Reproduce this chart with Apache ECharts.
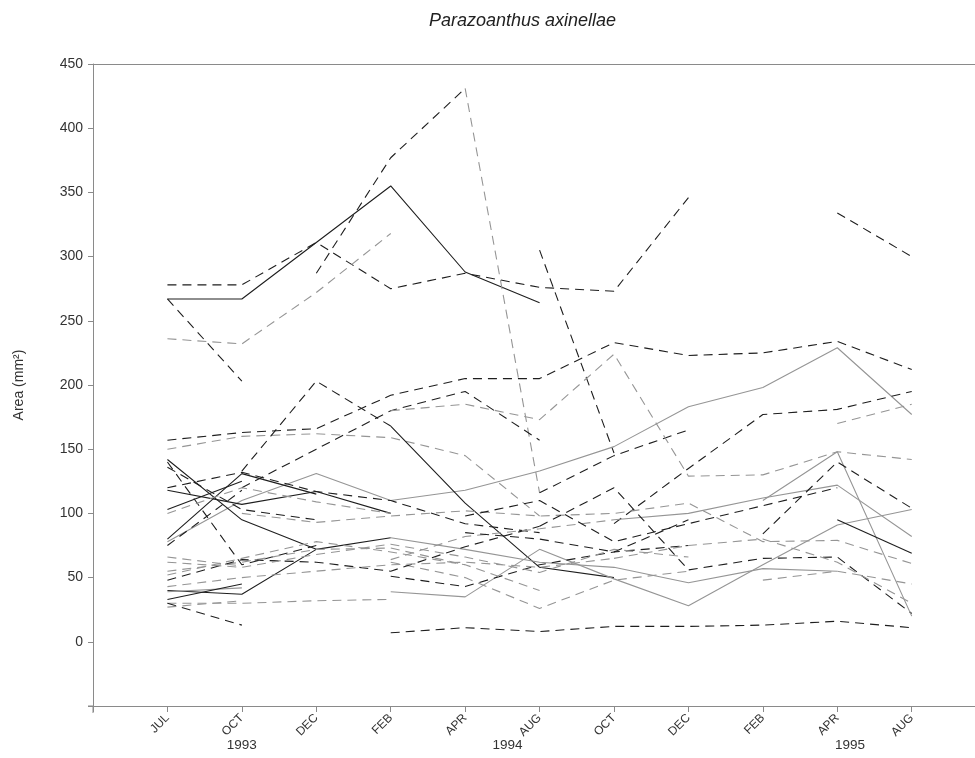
<!DOCTYPE html>
<html><head><meta charset="utf-8">
<script src="https://cdn.jsdelivr.net/npm/echarts/dist/echarts.min.js"></script>
<style>html,body{margin:0;padding:0;background:#fff}#c{width:975px;height:758px}</style>
</head><body><div id="c"></div>
<script>
// categories (sampling dates)
const months = ['JUL','OCT','DEC','FEB','APR','AUG','OCT','DEC','FEB','APR','AUG'];
const years = ['1993','1994','1995'];
const yearPos = [1, 4.57, 9.17];
const yTicks = [0,50,100,150,200,250,300,350,400,450];
// colony area series, order: JUL OCT DEC FEB APR AUG OCT DEC FEB APR AUG (null = not measured)
const s01 = [267,267,311,355,288,264,null,null,null,null,null];
const s02 = [278,278,311,275,287,276,273,346,null,334,300];
const s03 = [267,203,null,null,null,null,null,null,null,null,null];
const s04 = [236,232,272,318,null,null,null,null,null,null,null];
const s05 = [null,null,287,377,431,null,null,null,null,null,null];
const s06 = [null,null,null,null,431,116,null,null,null,null,null];
const s07 = [null,null,null,null,null,116,145,165,null,null,null];
const s08 = [null,null,null,null,null,305,147,null,null,null,null];
const s09 = [157,163,166,192,205,205,233,223,225,234,212];
const s10 = [150,160,162,159,145,98,null,null,null,null,null];
const s11 = [null,120,150,180,195,157,null,null,null,null,null];
const s12 = [null,null,null,180,185,173,224,129,130,148,142];
const s13 = [78,110,131,110,118,133,152,183,198,229,177];
const s14 = [null,133,203,168,null,null,null,null,null,null,null];
const s15 = [null,null,null,168,108,58,50,null,null,null,null];
const s16 = [null,null,null,null,null,null,92,135,177,181,195];
const s17 = [null,null,null,null,null,null,null,null,null,170,185];
const s18 = [null,null,null,39,35,72,49,28,60,91,103];
const s19 = [null,null,null,7,11,8,12,12,13,16,11];
const s20 = [30,30,32,33,null,null,null,null,null,null,null];
const s21 = [40,37,72,81,null,null,null,null,null,null,null];
const s22 = [null,null,null,81,72,62,58,46,57,55,null];
const s23 = [142,95,72,null,null,null,null,null,null,null,null];
const s24 = [null,null,null,62,50,26,48,55,null,null,null];
const s25 = [null,100,93,98,102,98,100,108,78,79,61];
const s26 = [null,null,null,null,null,null,95,100,112,122,82];
const s27 = [null,null,null,null,null,90,120,56,65,66,22];
const s28 = [null,null,null,null,null,null,null,null,48,55,45];
const s29 = [null,null,null,null,null,null,null,null,110,148,20];
const s30 = [null,null,null,null,null,null,null,null,null,95,69];
const s31 = [140,60,75,null,null,null,null,null,null,null,null];
const s32 = [118,107,117,100,null,null,null,null,null,null,null];
const s33 = [103,125,null,null,null,null,null,null,null,null,null];
const s34 = [80,131,115,null,null,null,null,null,null,null,null];
const s35 = [136,103,95,null,null,null,null,null,null,null,null];
const s36 = [120,132,117,110,92,85,null,null,null,null,null];
const s37 = [100,120,109,100,null,null,null,null,null,null,null];
const s38 = [66,59,null,null,null,null,null,null,null,null,null];
const s39 = [55,62,72,73,60,null,null,null,null,null,null];
const s40 = [48,64,62,55,74,90,null,null,null,null,null];
const s41 = [30,13,null,null,null,null,null,null,null,null,null];
const s42 = [null,null,null,51,43,60,70,75,null,null,null];
const s43 = [null,null,null,64,82,88,95,null,null,null,null];
const s44 = [43,50,55,60,62,58,65,null,null,null,null];
const s45 = [75,118,null,null,null,null,null,null,null,null,null];
const s46 = [39,42,null,null,null,null,null,null,null,null,null];
const s47 = [27,32,null,null,null,null,null,null,null,null,null];
const s48 = [52,65,78,70,60,40,null,null,null,null,null];
const s49 = [null,null,null,null,85,80,70,95,null,null,null];
const s50 = [null,null,null,null,null,null,65,75,80,62,30];
const s51 = [62,58,68,76,66,54,72,66,null,null,null];
const s52 = [null,null,null,null,98,110,78,92,106,120,null];
const s53 = [33,45,null,null,null,null,null,null,null,null,null];
const s54 = [null,null,null,null,null,null,null,null,84,140,104];

const seriesList = [s01,s02,s03,s04,s05,s06,s07,s08,s09,s10,s11,s12,s13,s14,s15,s16,s17,s18,s19,s20,
  s21,s22,s23,s24,s25,s26,s27,s28,s29,s30,s31,s32,s33,s34,s35,s36,s37,s38,s39,s40,
  s41,s42,s43,s44,s45,s46,s47,s48,s49,s50,s51,s52,s53,s54];
// line style per series: k=black g=grey, s=solid d=dashed
const styleCodes = ['ks','kd','kd','gd','kd','gd','kd','kd','kd','gd','kd','gd','gs','kd','ks','kd','gd','gs','kd','gd',
  'ks','gs','ks','gd','gd','gs','kd','gd','gs','ks','kd','ks','ks','ks','kd','kd','gd','gd','gd','kd',
  'kd','kd','gd','gd','kd','gs','gd','gd','kd','gd','gd','kd','ks','kd'];

const chart = echarts.init(document.getElementById('c'));
const series = seriesList.map((vals, k) => {
  const code = styleCodes[k];
  return {
    type: 'line', symbol: 'none', silent: true, animation: false, connectNulls: false,
    data: vals.map((v, i) => [i, v == null ? '-' : v]),
    lineStyle: {
      color: code[0] === 'k' ? '#1e1e1e' : '#959595',
      width: 1.1,
      type: code[1] === 'd' ? [9, 6] : 'solid'
    }
  };
});

const axisColor = '#8a8a8a';
chart.setOption({
  animation: false,
  backgroundColor: '#fff',
  title: {
    text: 'Parazoanthus axinellae', left: 424, top: 7,
    textStyle: { fontFamily: 'Liberation Sans', fontStyle: 'italic', fontWeight: 'normal', fontSize: 18, color: '#222' }
  },
  grid: { left: 93, top: 64, right: 0, height: 642 },
  xAxis: [{
    type: 'value', min: -1, max: 10.85, interval: 1,
    splitLine: { show: false },
    axisLine: { onZero: false, lineStyle: { color: axisColor } },
    axisTick: { length: 6, lineStyle: { color: axisColor } },
    axisLabel: {
      rotate: 45, fontSize: 12, color: '#333', fontFamily: 'Liberation Sans', margin: 10,
      showMaxLabel: false,
      formatter: v => (v >= 0 && v < months.length) ? months[v] : ''
    }
  }, {
    type: 'value', min: -1, max: 10.85, position: 'top',
    splitLine: { show: false },
    axisLine: { show: true, onZero: false, lineStyle: { color: axisColor } },
    axisTick: { show: false }, axisLabel: { show: false }
  }],
  yAxis: {
    type: 'value', min: -50, max: 450, interval: 50,
    name: 'Area (mm²)', nameLocation: 'middle', nameGap: 67, nameRotate: 90,
    nameTextStyle: { fontSize: 14, color: '#333', fontFamily: 'Liberation Sans' },
    splitLine: { show: false },
    axisLine: { show: true, onZero: false, lineStyle: { color: axisColor } },
    axisTick: { show: true, length: 5, lineStyle: { color: axisColor } },
    axisLabel: {
      fontSize: 14, color: '#333', fontFamily: 'Liberation Sans', margin: 10,
      formatter: v => yTicks.indexOf(v) >= 0 ? String(v) : ''
    }
  },
  series: series
});

const origin = chart.convertToPixel({ xAxisIndex: 0, yAxisIndex: 0 }, [-1, -50]);
const yearGraphics = years.map((t, i) => {
  const px = chart.convertToPixel({ xAxisIndex: 0 }, yearPos[i]);
  return { type: 'text', x: px, y: 738, style: { text: t, fontSize: 13.5, fill: '#333', fontFamily: 'Liberation Sans', textAlign: 'center' } };
});
yearGraphics.push(
  { type: 'line', shape: { x1: origin[0], y1: origin[1], x2: origin[0], y2: origin[1] + 7 }, style: { stroke: axisColor, lineWidth: 1 } },
  { type: 'line', shape: { x1: origin[0] - 5, y1: origin[1], x2: origin[0], y2: origin[1] }, style: { stroke: axisColor, lineWidth: 1 } }
);
chart.setOption({ graphic: yearGraphics });
</script></body></html>
